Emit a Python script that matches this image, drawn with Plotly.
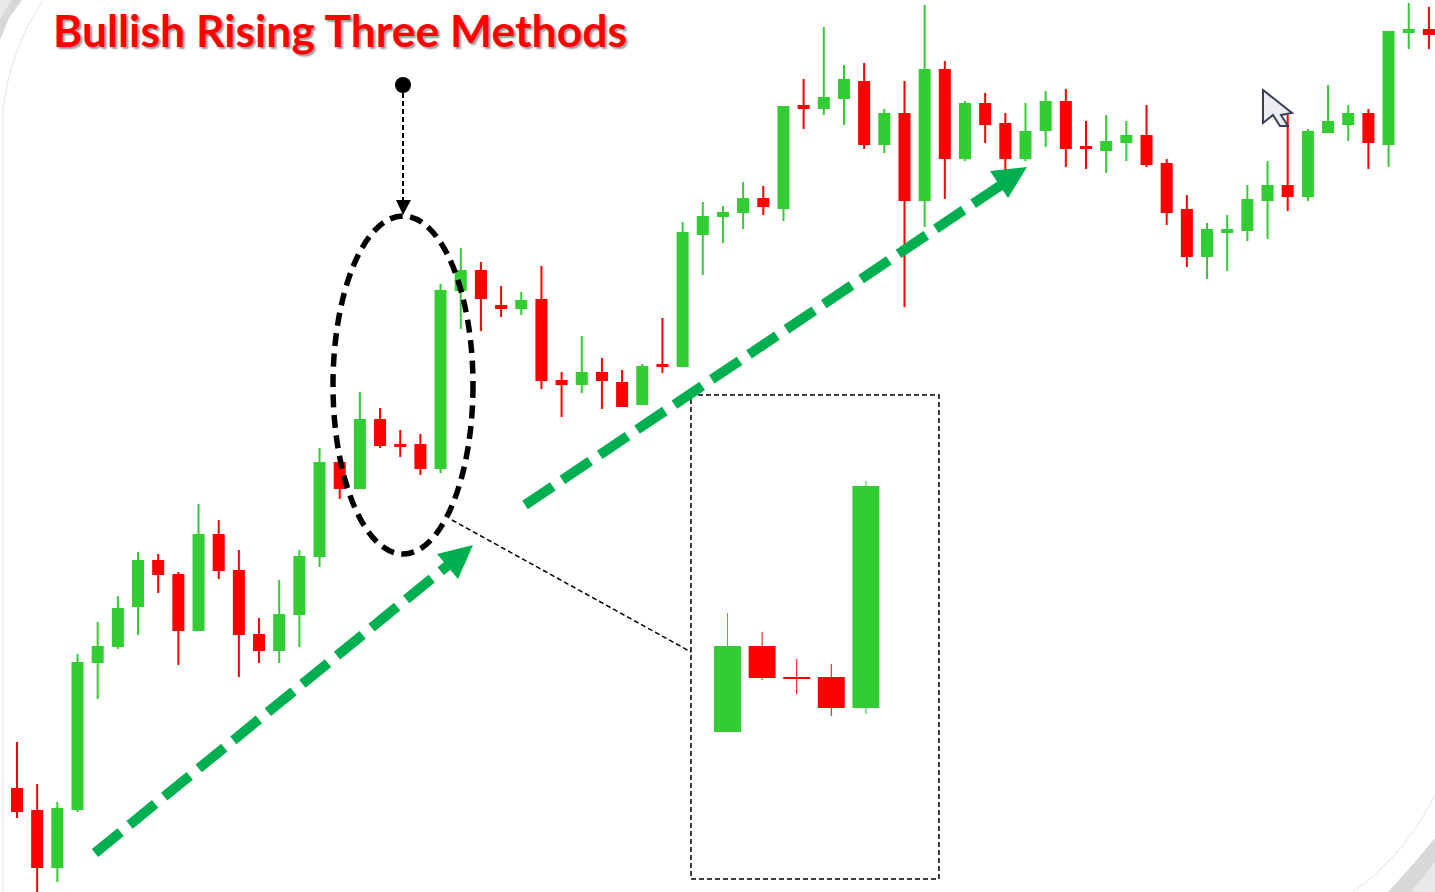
import plotly.graph_objects as go

W, H = 1435, 892

# Main candles, price units
opens = [103,81,25,83,230,246,286,331,317,262,357,321,257,242,278,336,429,404,472,447,447,424,602,621,586,584,592,511,508,519,509,488,527,526,658,676,680,693,684,786,784,794,810,748,778,692,822,734,788,768,734,762,790,745,742,750,756,728,682,636,660,662,692,706,696,760,768,778,748,860,862]
highs = [150,108,90,238,270,296,340,338,320,388,372,342,274,312,342,444,430,500,484,462,458,608,644,630,606,600,626,520,556,534,522,528,574,670,690,686,710,706,786,813,865,827,829,783,811,887,831,791,799,779,789,801,803,771,777,771,787,733,697,669,677,707,731,777,763,807,787,783,861,889,885]
lows = [74,0,10,80,193,243,257,299,227,261,313,215,229,229,245,325,393,403,444,435,417,419,563,561,575,577,503,475,499,483,485,487,519,525,617,649,663,677,671,763,777,767,743,739,585,665,693,731,749,722,731,745,725,723,719,731,725,667,625,613,621,651,653,681,691,759,751,723,725,843,843]
closes = [81,25,83,229,245,283,331,318,262,357,322,258,242,277,335,429,404,472,447,446,424,601,621,594,584,591,512,508,519,512,486,525,526,659,675,679,693,686,785,784,794,812,748,778,692,822,734,788,768,734,760,790,744,744,750,756,728,680,636,662,662,692,706,696,760,770,778,750,860,862,858]

# Magnified inset candles
inset_opens = [160,246,215,215,184]
inset_highs = [279,260,233,228,411]
inset_lows = [160,212,198,176,178]
inset_closes = [246,214,213,184,406]

TITLE = "Bullish Rising Three Methods"
UP, DOWN = "#32CD32", "#FF0000"
ARROW = "#00B050"


def px(x):
    return x / W


def py(y):
    return 1 - y / H


def path(points, close=True):
    body = " L ".join(f"{px(x):.5f} {py(y):.5f}" for x, y in points)
    return "M " + body + (" Z" if close else "")


def curve(start, ctrl, end):
    return (f"M {px(start[0]):.5f} {py(start[1]):.5f} "
            f"Q {px(ctrl[0]):.5f} {py(ctrl[1]):.5f} {px(end[0]):.5f} {py(end[1]):.5f}")


fig = go.Figure()
fig.add_trace(go.Candlestick(
    x=list(range(len(opens))), open=opens, high=highs, low=lows, close=closes,
    increasing=dict(line=dict(color=UP, width=2), fillcolor=UP),
    decreasing=dict(line=dict(color=DOWN, width=2), fillcolor=DOWN),
    hoverinfo="skip", showlegend=False,
))

inset_x = list(range(len(inset_opens)))
inset_colors = [UP if c > o else DOWN for o, c in zip(inset_opens, inset_closes)]
fig.add_trace(go.Bar(
    x=inset_x, y=[c - o for o, c in zip(inset_opens, inset_closes)], base=inset_opens,
    width=0.78, marker=dict(color=inset_colors, line=dict(width=0)),
    xaxis="x2", hoverinfo="skip", showlegend=False,
))
for i, color in zip(inset_x, inset_colors):
    fig.add_trace(go.Scatter(
        x=[i, i], y=[inset_lows[i], inset_highs[i]], mode="lines",
        line=dict(color=color, width=1), xaxis="x2", hoverinfo="skip", showlegend=False,
    ))

shapes = [
    # Slide corners and the faint frame line
    dict(type="path", path=path([(0, 0), (22, 0), (9, 18), (0, 40)]), fillcolor="#D8D8D8",
         line=dict(width=0), layer="below"),
    dict(type="path", path=path([(0, 0), (12, 0), (5, 10), (0, 20)]), fillcolor="#E8E8E8",
         line=dict(width=0), layer="below"),
    dict(type="path", path=path([(1435, 838), (1415, 862), (1388, 892), (1435, 892)]),
         fillcolor="#D8D8D8", line=dict(width=0), layer="below"),
    dict(type="path", path=path([(1435, 862), (1425, 875), (1410, 892), (1435, 892)]),
         fillcolor="#E8E8E8", line=dict(width=0), layer="below"),
    dict(type="path", path=curve((43, 0), (10, 50), (3, 110)) + f" L {px(3):.5f} 0",
         line=dict(color="#E4E4E4", width=1), layer="below"),
    dict(type="path", path=curve((1435, 795), (1405, 855), (1353, 892)),
         line=dict(color="#E4E4E4", width=1), layer="below"),
    # Ellipse around the pattern
    dict(type="circle", x0=px(333), x1=px(473), y0=py(554), y1=py(216),
         line=dict(color="#000000", width=5.5, dash="13px,7.5px")),
    # Pointer from the dot
    dict(type="circle", x0=px(395), x1=px(411), y0=py(93), y1=py(77),
         fillcolor="#000000", line=dict(width=0)),
    dict(type="line", x0=px(403), x1=px(403), y0=py(93), y1=py(203),
         line=dict(color="#000000", width=2, dash="5px,3px")),
    dict(type="path", path=path([(396, 200), (411, 200), (403, 215)]),
         fillcolor="#000000", line=dict(width=0)),
    # Inset box and leader
    dict(type="rect", x0=px(691), x1=px(939), y0=py(879), y1=py(395),
         line=dict(color="#000000", width=1.5, dash="5px,3px")),
    dict(type="line", x0=px(452), x1=px(691), y0=py(520), y1=py(652),
         line=dict(color="#000000", width=1.5, dash="5px,3px")),
    # Green trend arrows
    dict(type="line", x0=px(95), x1=px(452), y0=py(853), y1=py(562),
         line=dict(color=ARROW, width=10, dash="33px,11.6px")),
    dict(type="path", path=path([(437, 554), (473, 545), (458, 579)]),
         fillcolor=ARROW, line=dict(width=0)),
    dict(type="line", x0=px(525), x1=px(1004), y0=py(505), y1=py(183),
         line=dict(color=ARROW, width=10, dash="33.5px,11.5px")),
    dict(type="path", path=path([(990, 171), (1027, 167), (1008, 198)]),
         fillcolor=ARROW, line=dict(width=0)),
    # Mouse cursor
    dict(type="path",
         path=path([(1263, 90), (1292, 113), (1281, 115), (1288, 126), (1280, 126), (1273, 115), (1263, 123)]),
         fillcolor="#ECEDF1", line=dict(color="#3A3F55", width=2)),
]
for s in shapes:
    s.setdefault("xref", "paper")
    s.setdefault("yref", "paper")

fig.update_layout(
    width=W, height=H,
    margin=dict(l=0, r=0, t=0, b=0),
    paper_bgcolor="#FFFFFF", plot_bgcolor="rgba(0,0,0,0)",
    showlegend=False, boxgap=0.29, barmode="overlay",
    title=dict(
        text=f"<b>{TITLE}</b>", x=px(53), xanchor="left", xref="paper",
        y=py(31), yanchor="middle", yref="paper", automargin=False,
        font=dict(family="Lato", size=44.5, color="#FF0000", shadow="2px 2px 2px #999999"),
    ),
    xaxis=dict(visible=False, range=[-17 / 20.17, (W - 17) / 20.17], rangeslider=dict(visible=False)),
    xaxis2=dict(visible=False, overlaying="x", anchor="y",
                range=[-727.5 / 34.6, (W - 727.5) / 34.6]),
    yaxis=dict(visible=False, range=[0, H]),
    shapes=shapes,
)

fig.write_html("out.html", config=dict(displayModeBar=False),
               post_script="document.body.style.margin='0';document.body.style.overflow='hidden';")
